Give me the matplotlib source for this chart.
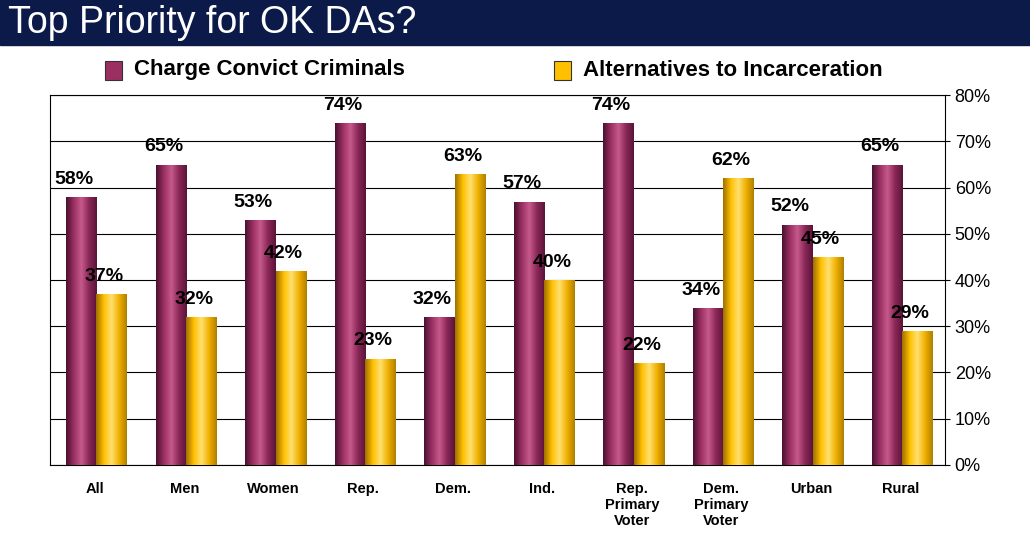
import matplotlib.pyplot as plt
import numpy as np
from matplotlib.colors import LinearSegmentedColormap

categories = ["All", "Men", "Women", "Rep.", "Dem.", "Ind.", "Rep.\nPrimary\nVoter",
              "Dem.\nPrimary\nVoter", "Urban", "Rural"]
charge = [58, 65, 53, 74, 32, 57, 74, 34, 52, 65]
alternatives = [37, 32, 42, 23, 63, 40, 22, 62, 45, 29]

fig = plt.figure(figsize=(10.3, 5.35), dpi=100)
fig.patch.set_facecolor("white")

# title bar
fig.patches.append(plt.Rectangle((0, 1 - 45 / 535), 1, 45 / 535, transform=fig.transFigure,
                                 color="#0c1a4a", zorder=0))
fig.text(0.008, 1 - 23 / 535, "Top Priority for OK DAs?", color="white", fontsize=27,
         va="center", ha="left", family="Liberation Sans")

# legend
for x, col, lab in [(0.102, "#9b2f62", "Charge Convict Criminals"),
                    (0.538, "#ffc000", "Alternatives to Incarceration")]:
    fig.patches.append(plt.Rectangle((x, 1 - 80 / 535), 0.016, 0.036, transform=fig.transFigure,
                                     facecolor=col, edgecolor="#333333", lw=0.8))
    fig.text(x + 0.028, 1 - 70 / 535, lab, fontsize=16, fontweight="bold", va="center",
             family="Liberation Sans")

ax = fig.add_axes([0.0485, 0.131, 0.869, 0.691])
x = np.arange(len(categories))
w = 0.34

purple = LinearSegmentedColormap.from_list("p", ["#4a1030", "#9b2f62", "#c65a8c", "#8a2757", "#5a1538"])
yellow = LinearSegmentedColormap.from_list("y", ["#a07000", "#ffc000", "#ffe070", "#f0b000", "#b08000"])
grad = np.linspace(0, 1, 64).reshape(1, -1)

def draw(xs, vals, cmap):
    for xi, v in zip(xs, vals):
        rect = plt.Rectangle((xi - w / 2, 0), w, v, facecolor="none", edgecolor="none")
        ax.add_patch(rect)
        im = ax.imshow(grad, cmap=cmap, aspect="auto",
                       extent=(xi - w / 2, xi + w / 2, 0, v), zorder=3)
        im.set_clip_path(rect)
        ax.text(xi - 0.08, v + 2, f"{v}%", ha="center", va="bottom", fontsize=14,
                fontweight="bold", family="Liberation Sans", zorder=4)

draw(x - w / 2 + 0.02, charge, purple)
draw(x + w / 2 + 0.02, alternatives, yellow)

ax.set_xlim(-0.5, len(categories) - 0.5)
ax.set_ylim(0, 80)
ax.set_yticks(range(0, 81, 10))
ax.set_yticklabels([f"{t}%" for t in range(0, 81, 10)], fontsize=13, family="Liberation Sans")
ax.yaxis.tick_right()
ax.set_xticks(x)
ax.set_xticklabels(categories, fontsize=10.5, fontweight="bold", family="Liberation Sans", va="top")
ax.tick_params(axis="x", length=0, pad=12)
ax.grid(axis="y", color="black", lw=0.8, zorder=0)
for s in ax.spines.values():
    s.set_color("black")

fig.savefig("out.png", dpi=100)
